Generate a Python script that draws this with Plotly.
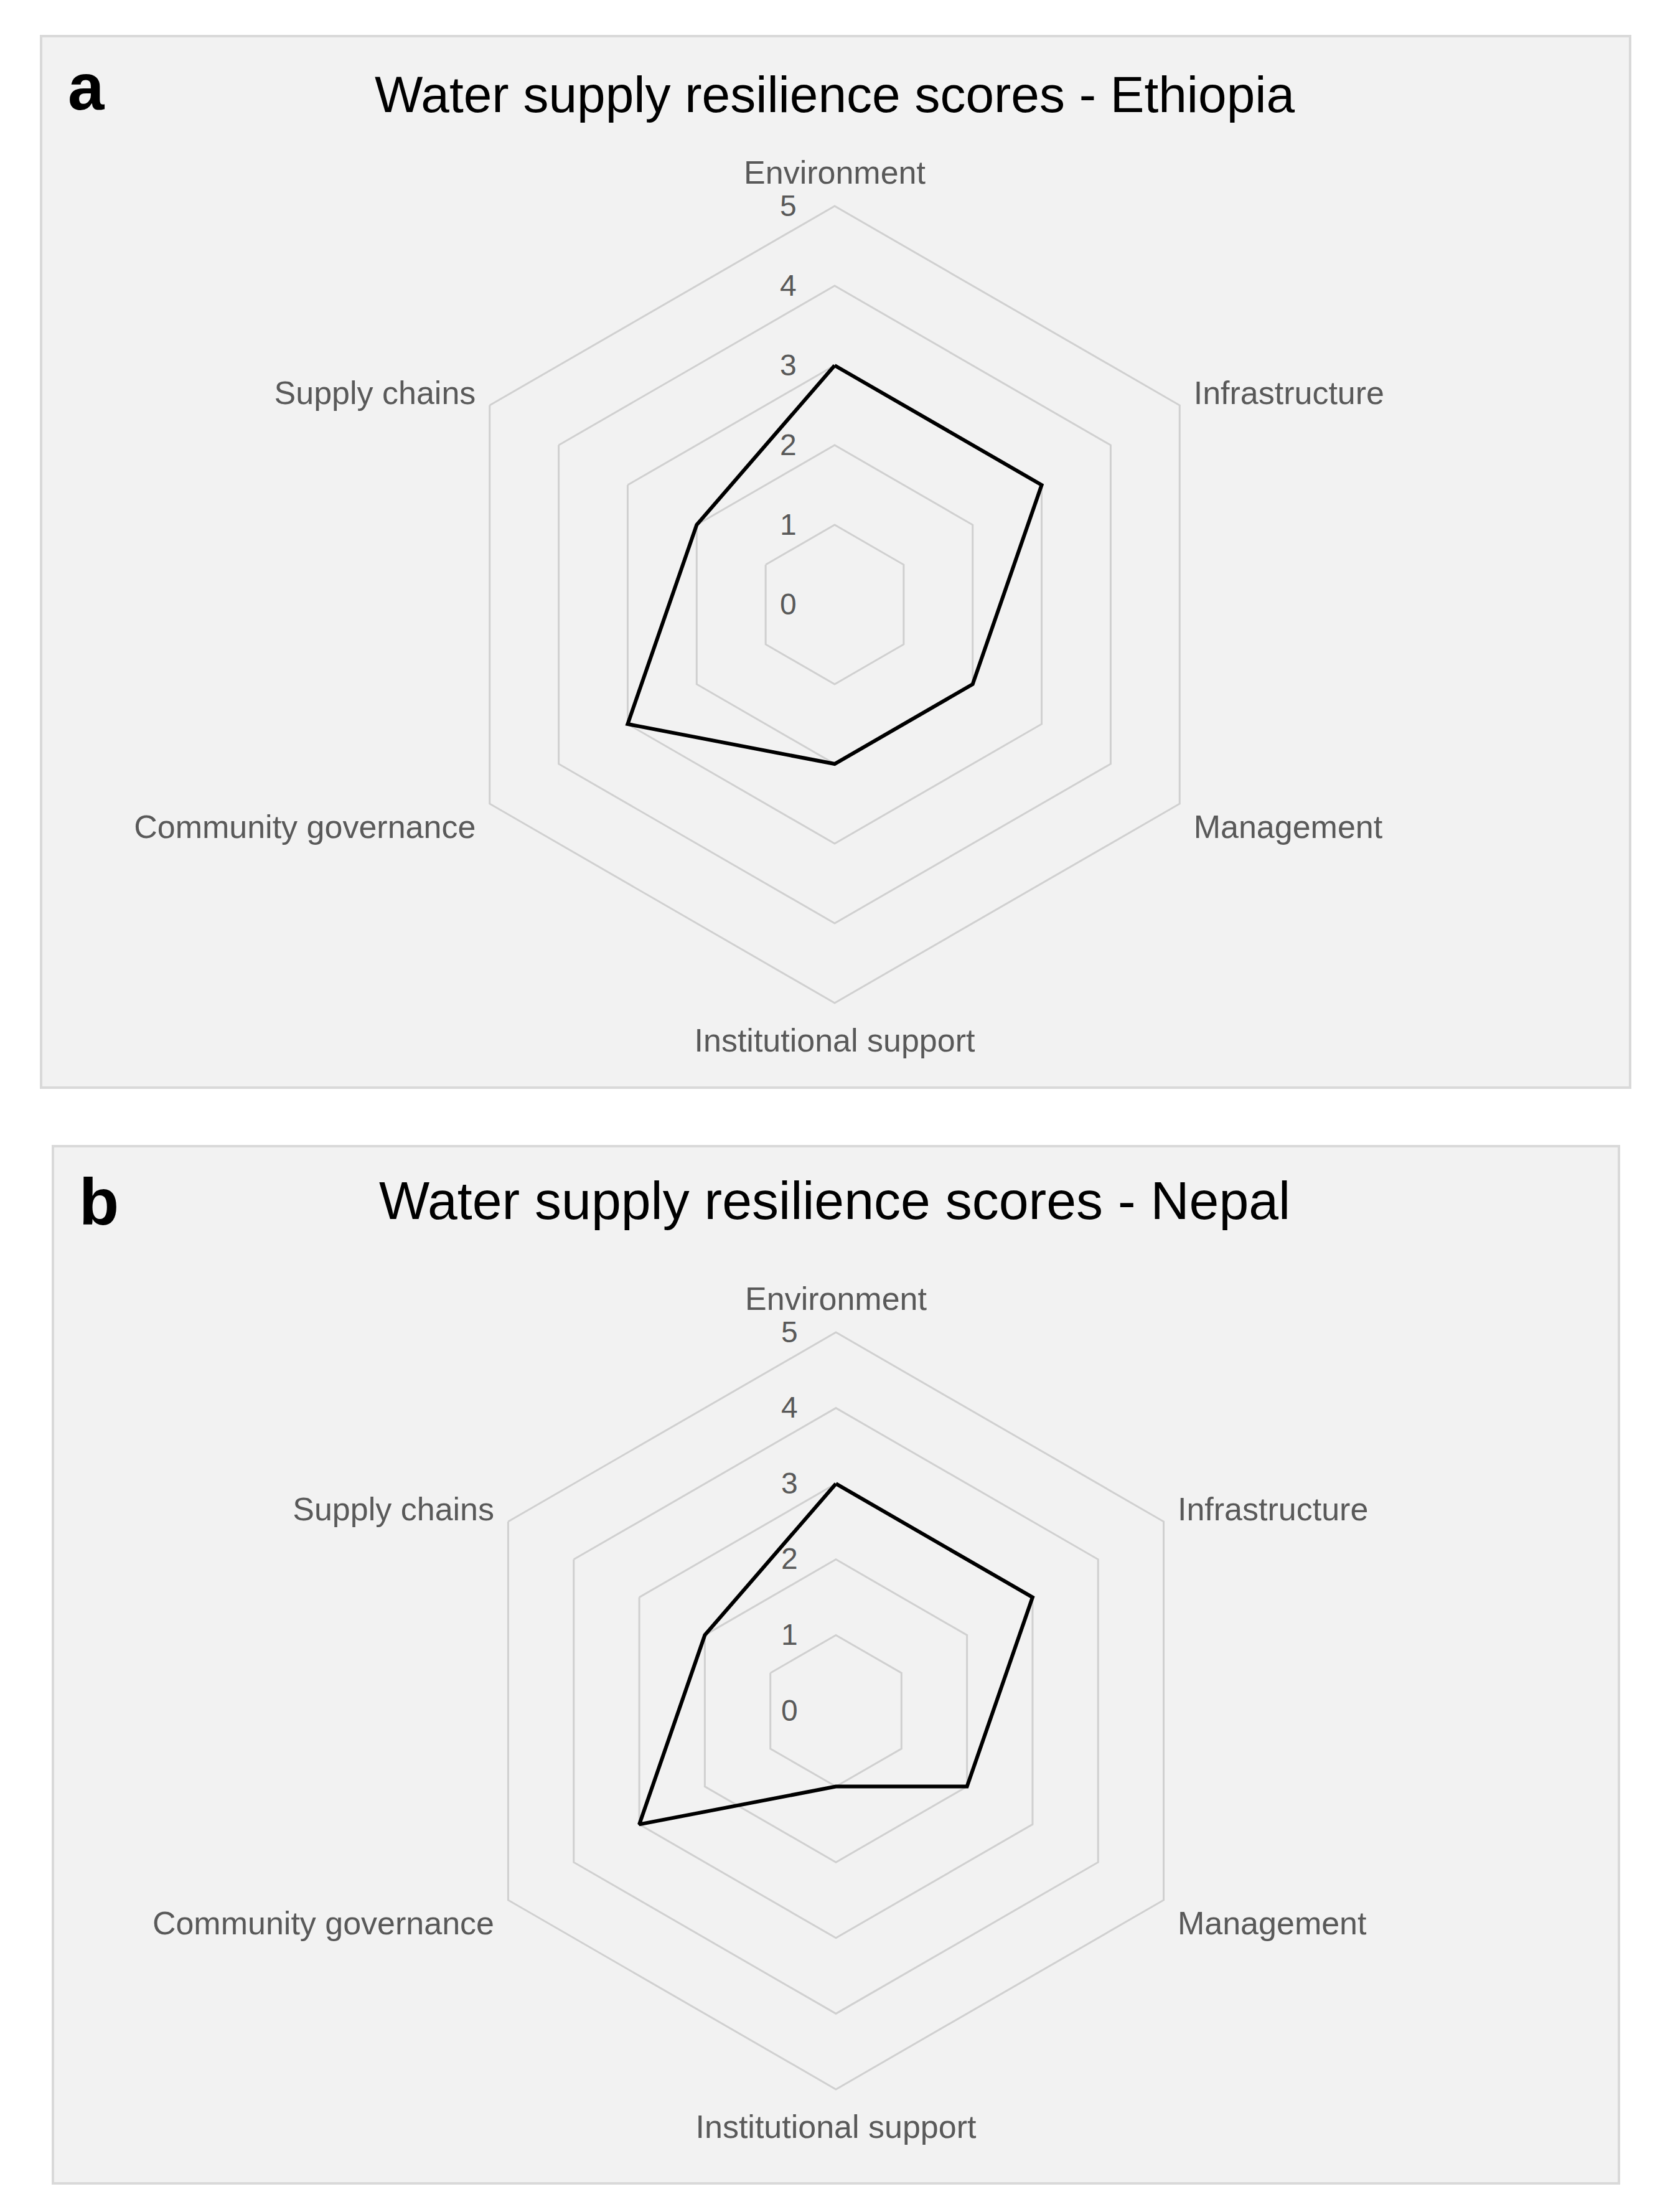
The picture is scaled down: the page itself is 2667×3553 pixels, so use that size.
import plotly.graph_objects as go

# Resilience scores (0-5) per dimension
categories = ["Environment", "Infrastructure", "Management",
              "Institutional support", "Community governance", "Supply chains"]
ethiopia = [3, 3, 2, 2, 3, 2]
nepal = [3, 3, 2, 1, 3, 2]
radial_ticks = [0, 1, 2, 3, 4, 5]

W, H = 2667, 3553
GRID = "#d0d0d0"
LABEL = "#595959"


def fx(x):
    return x / W


def fy(y):
    return 1 - y / H


def polar_domain(cx, cy, r):
    return dict(x=[fx(cx - r), fx(cx + r)], y=[fy(cy + r), fy(cy - r)])


def polar_layout(cx, cy, r):
    return dict(
        domain=polar_domain(cx, cy, r),
        bgcolor="#f2f2f2",
        gridshape="linear",
        radialaxis=dict(
            range=[0, 5], tickvals=radial_ticks, angle=90, side="counterclockwise",
            showline=False, ticks="outside", ticklen=44, tickcolor="rgba(0,0,0,0)",
            gridcolor=GRID, gridwidth=3, tickangle=90,
            tickfont=dict(family="Liberation Sans", size=48, color=LABEL),
        ),
        angularaxis=dict(
            direction="clockwise", rotation=90, showgrid=False,
            ticks="outside", ticklen=14, tickcolor="rgba(0,0,0,0)",
            showline=True, linecolor=GRID, linewidth=3,
            tickfont=dict(family="Liberation Sans", size=52, color=LABEL),
        ),
    )


fig = go.Figure()
for vals, sub in [(ethiopia, "polar"), (nepal, "polar2")]:
    fig.add_trace(go.Scatterpolar(
        r=vals + vals[:1], theta=categories + categories[:1],
        mode="lines", line=dict(color="black", width=6),
        subplot=sub, showlegend=False,
    ))

# panel boxes
panels = [(58, 50, 2611, 1739), (77, 1833, 2593, 3499)]
shapes = []
for x0, y0, x1, y1 in panels:
    shapes.append(dict(type="rect", xref="paper", yref="paper", layer="below",
                       x0=fx(x0), x1=fx(x1), y0=fy(y1), y1=fy(y0),
                       fillcolor="#f2f2f2", line=dict(color="#d9d9d9", width=4)))

annotations = [
    dict(text="<b>a</b>", x=fx(99), y=fy(131), xanchor="left", yanchor="middle"),
    dict(text="<b>b</b>", x=fx(117), y=fy(1922), xanchor="left", yanchor="middle"),
]
for a in annotations:
    a.update(xref="paper", yref="paper", showarrow=False,
             font=dict(family="Liberation Sans", size=105, color="black"))

titles = [("Water supply resilience scores - Ethiopia", 1333, 143, 82),
          ("Water supply resilience scores - Nepal", 1333, 1920, 86)]
for t, x, y, s in titles:
    annotations.append(dict(text=t, x=fx(x), y=fy(y), xref="paper", yref="paper",
                            xanchor="center", yanchor="middle", showarrow=False,
                            font=dict(family="Liberation Sans", size=s, color="black")))

fig.update_layout(
    width=W, height=H,
    margin=dict(l=0, r=0, t=0, b=0),
    paper_bgcolor="white",
    polar=polar_layout(1333, 963, 640),
    polar2=polar_layout(1335, 2740, 608),
    shapes=shapes,
    annotations=annotations,
)

fig.write_html("out.html")
